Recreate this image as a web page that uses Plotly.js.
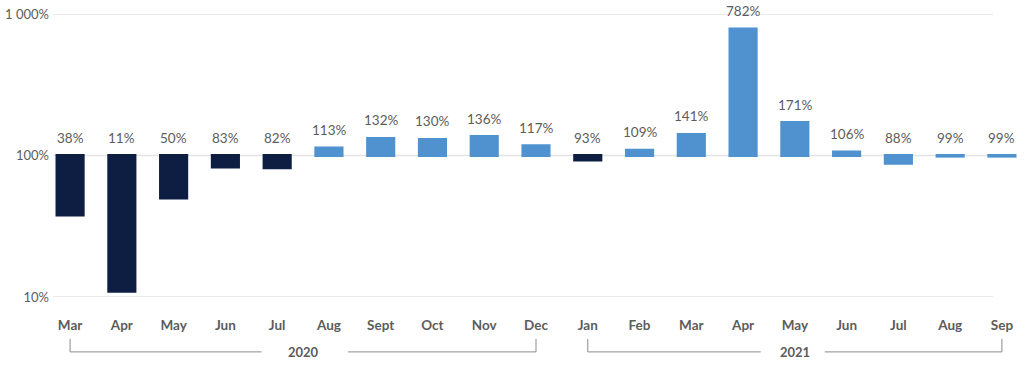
<!DOCTYPE html>
<html>
<head>
<meta charset="utf-8">
<script src="https://cdn.plot.ly/plotly-3.0.1.min.js"></script>
<style>html,body{margin:0;padding:0;background:#fff;}#chart{width:1028px;height:366px;}</style>
</head>
<body>
<div id="chart"></div>
<script>
// Data
const months = ["Mar","Apr","May","Jun","Jul","Aug","Sept","Oct","Nov","Dec","Jan","Feb","Mar","Apr","May","Jun","Jul","Aug","Sep"];
const values = [38, 11, 50, 83, 82, 113, 132, 130, 136, 117, 93, 109, 141, 782, 171, 106, 88, 99, 99];
const barColors = ["#0e1d42","#0e1d42","#0e1d42","#0e1d42","#0e1d42","#4f92cf","#4f92cf","#4f92cf","#4f92cf","#4f92cf","#0e1d42","#4f92cf","#4f92cf","#4f92cf","#4f92cf","#4f92cf","#4f92cf","#4f92cf","#4f92cf"];
const yTickVals = [10, 100, 1000];
const yTickText = ["10%", "100%", "1 000%"];
const baseline = 100;
const groups = [
  {label: "2020", start: 0, end: 9, gapL: 0.8, gapR: 0.87},
  {label: "2021", start: 10, end: 18, gapL: 0.66, gapR: 0.58}
];

const idx = months.map((m, i) => i);
const FONT = "Lato, 'Source Sans Pro', sans-serif";
const TXT = "#5c5c5c";

const trace = {
  type: "bar",
  x: idx,
  y: values.map(v => v - baseline),
  base: values.map(() => baseline),
  marker: {color: barColors, line: {width: 3, color: barColors}},
  width: 0.505,
  hoverinfo: "skip"
};

const annotations = values.map((v, i) => ({
  x: i, y: Math.log10(Math.max(v, baseline)), xref: "x", yref: "y",
  text: v + "%", showarrow: false, yanchor: "middle", yshift: 18,
  font: {family: FONT, size: 13.5, color: TXT}
}));

const shapes = [];
// gridlines
yTickVals.forEach(t => shapes.push({
  type: "line", xref: "x", yref: "y", x0: -0.33, x1: 17.83, y0: t, y1: t,
  line: {color: "#e3e3e3", width: 1.3}, layer: "below"
}));
const yLine = -0.194, yTop = -0.148;
groups.forEach(g => {
  const c = (g.start + g.end) / 2;
  const ln = {color: "#8a8a8a", width: 1};
  shapes.push({type: "line", xref: "x", yref: "paper", x0: g.start, x1: g.start, y0: yTop, y1: yLine, line: ln});
  shapes.push({type: "line", xref: "x", yref: "paper", x0: g.start, x1: c - g.gapL, y0: yLine, y1: yLine, line: ln});
  shapes.push({type: "line", xref: "x", yref: "paper", x0: c + g.gapR, x1: g.end, y0: yLine, y1: yLine, line: ln});
  shapes.push({type: "line", xref: "x", yref: "paper", x0: g.end, x1: g.end, y0: yTop, y1: yLine, line: ln});
  annotations.push({
    x: c, y: yLine, xref: "x", yref: "paper", text: g.label, showarrow: false,
    yanchor: "middle", font: {family: FONT, size: 13, color: TXT, weight: "bold"}
  });
});

const layout = {
  width: 1028, height: 366,
  margin: {l: 53, r: 9, t: 14, b: 69},
  paper_bgcolor: "#fff", plot_bgcolor: "#fff",
  showlegend: false,
  xaxis: {
    range: [-0.33, 18.33], tickmode: "array", tickvals: idx, ticktext: months,
    showgrid: false, zeroline: false, showline: false,
    ticks: "outside", ticklen: 16, tickcolor: "rgba(0,0,0,0)",
    tickfont: {family: FONT, size: 13.5, color: TXT, weight: "bold"}, fixedrange: true
  },
  yaxis: {
    type: "log", range: [1, 3], tickmode: "array", tickvals: yTickVals, ticktext: yTickText,
    showgrid: false, zeroline: false, showline: false, ticks: "", ticklabelstandoff: 3,
    tickfont: {family: FONT, size: 13, color: TXT}, fixedrange: true
  },
  shapes: shapes,
  annotations: annotations
};

Plotly.newPlot("chart", [trace], layout, {displayModeBar: false, staticPlot: true});
</script>
</body>
</html>
